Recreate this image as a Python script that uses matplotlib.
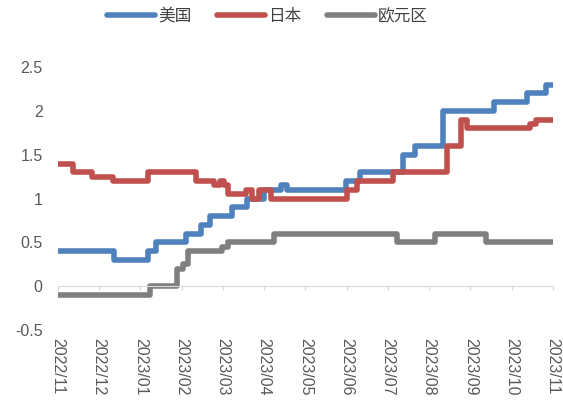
import numpy as np
import matplotlib.pyplot as plt

plt.rcParams['font.family'] = ['Liberation Sans', 'Noto Sans CJK SC', 'DejaVu Sans']

months = ['2022/11', '2022/12', '2023/01', '2023/02', '2023/03', '2023/04', '2023/05',
          '2023/06', '2023/07', '2023/08', '2023/09', '2023/10', '2023/11']

# change points: months since 2022/11, value after the change
us_t = [0, 1.36, 2.18, 2.38, 3.10, 3.47, 3.68, 4.22, 4.58, 5.0, 5.4, 5.55, 6.98, 7.32,
        8.36, 8.65, 9.33, 10.57, 11.37, 11.83]
us_v = [0.4, 0.3, 0.4, 0.5, 0.6, 0.7, 0.8, 0.9, 1.0, 1.1, 1.15, 1.1, 1.2, 1.3,
        1.5, 1.6, 2.0, 2.1, 2.2, 2.3]

jp_t = [0, 0.36, 0.82, 1.33, 2.18, 3.35, 3.78, 3.93, 4.02, 4.12, 4.56, 4.70, 4.87, 5.16,
        7.0, 7.25, 8.12, 9.43, 9.77, 9.92, 11.44, 11.59]
jp_v = [1.4, 1.3, 1.25, 1.2, 1.3, 1.2, 1.15, 1.2, 1.15, 1.05, 1.1, 1.0, 1.1, 1.0,
        1.1, 1.2, 1.3, 1.6, 1.9, 1.8, 1.85, 1.9]

eu_t = [0, 2.23, 2.88, 3.03, 3.15, 3.98, 4.12, 5.24, 8.22, 9.14, 10.38]
eu_v = [-0.1, 0.0, 0.2, 0.25, 0.4, 0.45, 0.5, 0.6, 0.5, 0.6, 0.5]

end_t = 12
series = [(us_t, us_v, '#4f81bd', '美国'),
          (jp_t, jp_v, '#c0504d', '日本'),
          (eu_t, eu_v, '#7f7f7f', '欧元区')]

fig = plt.figure(figsize=(5.63, 4.12), dpi=100)
ax = fig.add_axes([0.103, 0.199, 0.879, 0.638])

for t, v, c, lab in series:
    ax.step(t + [end_t], v + [v[-1]], where='post', color=c, lw=4,
            solid_joinstyle='round', solid_capstyle='round', label=lab)

ax.set_xlim(0, 12)
ax.set_ylim(-0.5, 2.5)
yt = np.arange(-0.5, 2.51, 0.5)
ax.set_yticks(yt)
ax.set_yticklabels(['%g' % y for y in yt])
ax.tick_params(axis='y', length=0, labelsize=11.5, labelcolor='#595959', pad=11)

for s in ['top', 'right', 'left']:
    ax.spines[s].set_visible(False)
ax.spines['bottom'].set_position(('data', 0))
ax.spines['bottom'].set_color('#d9d9d9')
ax.set_xticks(range(13))
ax.tick_params(axis='x', length=3, color='#d9d9d9', direction='out', labelbottom=False)

sec = ax.secondary_xaxis(0)
sec.set_xticks(range(13), labels=months, rotation=-90)
sec.tick_params(length=0, labelsize=11.5, labelcolor='#595959', pad=6)
sec.spines['bottom'].set_visible(False)

fig.legend(loc='center', bbox_to_anchor=(0.475, 0.96), ncol=3, frameon=False,
           handlelength=2.9, handletextpad=0.2, columnspacing=1.5,
           prop={'family': ['Noto Sans CJK SC'], 'size': 12}, labelcolor='#404040')

fig.savefig('out.png', dpi=100)
